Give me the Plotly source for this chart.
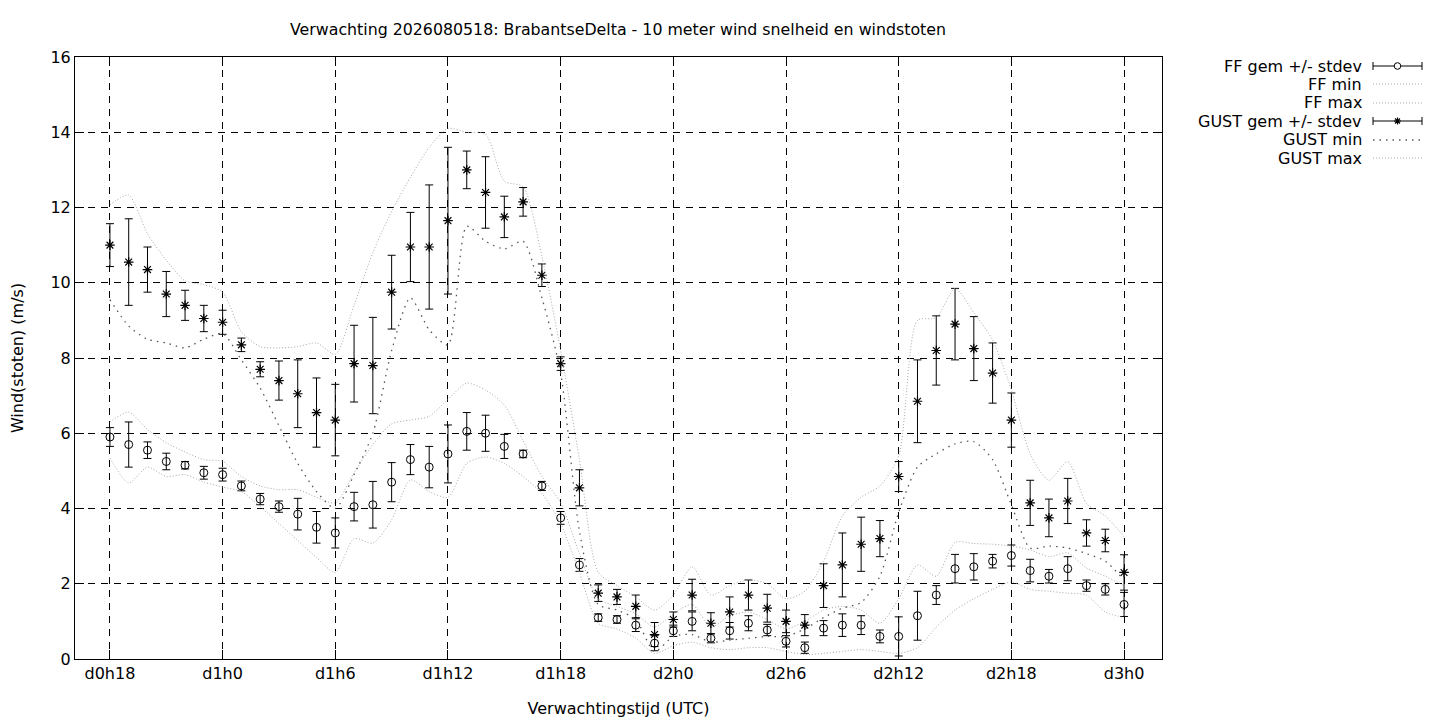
import plotly.graph_objects as go

# ---------------- data (hours since forecast start d0h0) ----------------
hours = list(range(18, 73))

tick_hours = [18, 24, 30, 36, 42, 48, 54, 60, 66, 72]
tick_labels = ["d0h18", "d1h0", "d1h6", "d1h12", "d1h18", "d2h0", "d2h6", "d2h12", "d2h18", "d3h0"]

ff_mean = [5.9, 5.7, 5.55, 5.25, 5.15, 4.95, 4.9, 4.6, 4.25, 4.05,
           3.85, 3.5, 3.35, 4.05, 4.1, 4.7, 5.3, 5.1, 5.45, 6.05,
           6.0, 5.65, 5.45, 4.6, 3.75, 2.5, 1.1, 1.05, 0.9, 0.42,
           0.75, 1.0, 0.55, 0.75, 0.95, 0.77, 0.47, 0.3, 0.82, 0.9,
           0.9, 0.6, 0.6, 1.15, 1.7, 2.4, 2.45, 2.6, 2.75, 2.35,
           2.2, 2.4, 1.95, 1.85, 1.45]
ff_std = [0.25, 0.6, 0.22, 0.22, 0.1, 0.17, 0.17, 0.13, 0.15, 0.15,
          0.42, 0.42, 0.4, 0.38, 0.62, 0.52, 0.4, 0.55, 0.77, 0.5,
          0.48, 0.32, 0.1, 0.12, 0.17, 0.17, 0.1, 0.1, 0.17, 0.2,
          0.15, 0.25, 0.12, 0.22, 0.2, 0.15, 0.15, 0.15, 0.2, 0.3,
          0.25, 0.17, 0.52, 0.65, 0.25, 0.38, 0.35, 0.18, 0.28, 0.3,
          0.18, 0.32, 0.15, 0.15, 0.32]
ff_min = [5.34, 4.68, 5.1, 4.85, 4.9, 4.7, 4.57, 4.45, 4.05, 3.6,
          3.15, 2.7, 2.3, 3.2, 3.08, 3.7, 4.76, 4.45, 4.3, 5.2,
          5.37, 5.2, 4.85, 4.4, 3.6, 2.3, 0.95, 0.8, 0.55, 0.15,
          0.35, 0.45, 0.3, 0.25, 0.3, 0.3, 0.2, 0.12, 0.15, 0.2,
          0.25, 0.2, 0.15, 0.3, 0.85, 1.3, 1.6, 1.85, 2.05, 1.85,
          1.8, 1.75, 1.7, 1.25, 1.1]
ff_max = [6.3, 6.56, 6.1, 5.75, 5.5, 5.3, 5.25, 4.85, 4.6, 4.5,
          4.5, 4.3, 4.15, 4.95, 5.7, 6.25, 6.35, 6.45, 6.9, 7.33,
          7.15, 6.75, 5.8, 4.85, 4.15, 2.8, 1.6, 1.4, 1.2, 0.85,
          1.2, 1.45, 0.85, 1.15, 1.25, 1.05, 0.8, 1.0, 1.3, 1.4,
          1.3, 0.95, 1.6, 2.5, 2.2, 3.1, 3.07, 3.05, 3.0, 2.9,
          2.72, 2.82, 2.42, 2.2, 1.95]

gust_mean = [11.0, 10.55, 10.35, 9.7, 9.4, 9.05, 8.95, 8.35, 7.7, 7.4,
             7.05, 6.55, 6.35, 7.85, 7.8, 9.75, 10.95, 10.95, 11.65, 13.0,
             12.4, 11.75, 12.15, 10.2, 7.85, 4.55, 1.75, 1.65, 1.4, 0.65,
             1.05, 1.7, 0.95, 1.25, 1.7, 1.35, 1.0, 0.9, 1.95, 2.5,
             3.05, 3.2, 4.85, 6.85, 8.2, 8.9, 8.25, 7.6, 6.35, 4.15,
             3.75, 4.2, 3.35, 3.15, 2.3]
gust_std = [0.57, 1.15, 0.6, 0.6, 0.4, 0.35, 0.32, 0.18, 0.2, 0.52,
            0.9, 0.92, 0.95, 1.02, 1.28, 0.98, 0.92, 1.65, 1.95, 0.5,
            0.95, 0.55, 0.38, 0.3, 0.18, 0.48, 0.22, 0.2, 0.3, 0.32,
            0.2, 0.42, 0.28, 0.4, 0.4, 0.37, 0.3, 0.28, 0.58, 0.85,
            0.72, 0.48, 0.4, 1.1, 0.92, 0.95, 0.85, 0.8, 0.72, 0.6,
            0.5, 0.6, 0.35, 0.3, 0.47]
gust_min = [9.55, 8.85, 8.5, 8.4, 8.27, 8.5, 8.65, 7.95, 7.2, 6.2,
            5.2, 4.45, 4.0, 4.9, 6.0, 8.2, 9.6, 8.75, 8.35, 11.5,
            11.1, 10.9, 11.1, 9.6, 7.6, 3.4, 1.45, 1.3, 1.05, 0.2,
            0.6, 0.65, 0.45, 0.5, 0.55, 0.6, 0.6, 0.8, 1.1, 1.35,
            1.5, 2.2, 3.9, 5.1, 5.45, 5.72, 5.78, 5.3, 4.1, 2.95,
            3.0, 2.95, 2.8, 2.6, 2.1]
gust_max = [12.07, 12.33, 11.3, 10.6, 10.05, 9.95, 9.75, 8.7, 8.3, 8.27,
            8.3, 8.4, 8.1, 9.4, 10.8, 11.9, 12.8, 13.6, 14.1, 14.0,
            13.95, 12.7, 12.55, 10.7, 8.2, 5.3, 2.3, 1.95, 1.65, 1.3,
            1.7, 2.45, 1.7, 1.95, 2.1, 2.0, 1.6, 1.8, 2.6, 3.8,
            4.3, 4.6, 5.4, 9.0, 9.07, 9.85, 9.2, 8.48, 7.15, 5.45,
            4.75, 5.25, 4.13, 3.8, 3.25]

series_names = ["FF gem +/- stdev", "FF min", "FF max",
                "GUST gem +/- stdev", "GUST min", "GUST max"]

title_text = "Verwachting 2026080518: BrabantseDelta - 10 meter wind snelheid en windstoten"
x_title = "Verwachtingstijd (UTC)"
y_title = "Wind(stoten) (m/s)"

# ---------------- styling ----------------
FONT = "DejaVu Sans"
FS = 16
LIGHT = "#a8a8a8"
DARK = "#555555"
LIGHT_DASH = "1px,2px"
DARK_DASH = "1.5px,5px"

W, H = 1440, 720
OFF = 8                      # page offset of the plot div (body margin)
PL, PR, PT, PB = 75, 1162, 57, 659   # plot area in screen pixels
PW, PH = PR - PL, PB - PT
ML, MT = PL - OFF, PT - OFF
MR = W - ML - PW
MB = H - MT - PH


def px(x):
    return (x - PL) / PW


def py(y):
    return (PB - y) / PH


fig = go.Figure()

fig.add_trace(go.Scatter(
    x=hours, y=ff_mean, mode="markers", name=series_names[0],
    marker=dict(symbol="circle-open", size=8, color="black", line=dict(width=1, color="black")),
    error_y=dict(type="data", array=ff_std, symmetric=True, color="black", thickness=1, width=4),
    showlegend=False))
fig.add_trace(go.Scatter(
    x=hours, y=ff_min, mode="lines", name=series_names[1],
    line=dict(color=LIGHT, width=1, dash=LIGHT_DASH, shape="spline", smoothing=0.7),
    showlegend=False))
fig.add_trace(go.Scatter(
    x=hours, y=ff_max, mode="lines", name=series_names[2],
    line=dict(color=LIGHT, width=1, dash=LIGHT_DASH, shape="spline", smoothing=0.7),
    showlegend=False))
fig.add_trace(go.Scatter(
    x=hours, y=gust_mean, mode="markers", name=series_names[3],
    marker=dict(symbol="asterisk-open", size=8, color="black", line=dict(width=1.2, color="black")),
    error_y=dict(type="data", array=gust_std, symmetric=True, color="black", thickness=1, width=4),
    showlegend=False))
fig.add_trace(go.Scatter(
    x=hours, y=gust_min, mode="lines", name=series_names[4],
    line=dict(color=DARK, width=1.3, dash=DARK_DASH, shape="spline", smoothing=0.7),
    showlegend=False))
fig.add_trace(go.Scatter(
    x=hours, y=gust_max, mode="lines", name=series_names[5],
    line=dict(color=LIGHT, width=1, dash=LIGHT_DASH, shape="spline", smoothing=0.7),
    showlegend=False))

# ---------------- gnuplot-style legend (text right, sample on the right) ----------------
annotations = []
shapes = []
row_y = [66, 84, 103, 121, 140, 158]
text_right = 1364
s0, s1 = 1373, 1422
for i, name in enumerate(series_names):
    yy = row_y[i]
    annotations.append(dict(xref="paper", yref="paper", x=px(text_right), y=py(yy),
                            text=name, showarrow=False, xanchor="right", yanchor="middle",
                            font=dict(family=FONT, size=FS, color="black")))
    if i in (0, 3):
        shapes.append(dict(type="line", xref="paper", yref="paper",
                           x0=px(s0), x1=px(s1), y0=py(yy), y1=py(yy),
                           line=dict(color="black", width=1)))
        for sx in (s0, s1):
            shapes.append(dict(type="line", xref="paper", yref="paper",
                               x0=px(sx), x1=px(sx), y0=py(yy - 4), y1=py(yy + 4),
                               line=dict(color="black", width=1)))
        cx = (s0 + s1) / 2
        if i == 0:
            shapes.append(dict(type="circle", xref="paper", yref="paper",
                               x0=px(cx - 3.3), x1=px(cx + 3.3), y0=py(yy + 3.3), y1=py(yy - 3.3),
                               line=dict(color="black", width=1), fillcolor="white"))
        else:
            r = 3.5
            d = r * 0.707
            path = (f"M{px(cx - r)},{py(yy)} L{px(cx + r)},{py(yy)} "
                    f"M{px(cx)},{py(yy - r)} L{px(cx)},{py(yy + r)} "
                    f"M{px(cx - d)},{py(yy - d)} L{px(cx + d)},{py(yy + d)} "
                    f"M{px(cx - d)},{py(yy + d)} L{px(cx + d)},{py(yy - d)}")
            shapes.append(dict(type="path", xref="paper", yref="paper", path=path,
                               line=dict(color="black", width=1.2)))
    else:
        dark = (i == 4)
        shapes.append(dict(type="line", xref="paper", yref="paper",
                           x0=px(s0), x1=px(s1), y0=py(yy), y1=py(yy),
                           line=dict(color=DARK if dark else LIGHT, width=1.3 if dark else 1,
                                     dash=DARK_DASH if dark else LIGHT_DASH)))

axis_common = dict(
    showline=True, linecolor="black", linewidth=1, mirror="ticks",
    ticks="inside", ticklen=9, tickcolor="black", tickwidth=1,
    showgrid=True, gridcolor="black", gridwidth=1, griddash="7px,6px",
    zeroline=False, automargin=False,
    tickfont=dict(family=FONT, size=FS, color="black"),
)

fig.update_layout(
    width=W, height=H,
    margin=dict(l=ML, r=MR, t=MT, b=MB, pad=0, autoexpand=False),
    paper_bgcolor="white", plot_bgcolor="white",
    font=dict(family=FONT, size=FS, color="black"),
    title=dict(text=title_text, xref="paper", x=px(618), xanchor="center",
               yref="container", y=1 - (29 - OFF) / H, yanchor="middle",
               font=dict(family=FONT, size=15.8, color="black")),
    xaxis=dict(range=[16.14, 74.02], tickvals=tick_hours, ticktext=tick_labels,
               title=dict(text=x_title, standoff=20, font=dict(family=FONT, size=FS)),
               **axis_common),
    yaxis=dict(range=[0, 16], tickvals=list(range(0, 17, 2)),
               title=dict(text=y_title, standoff=22, font=dict(family=FONT, size=FS)),
               **axis_common),
    annotations=annotations,
    shapes=shapes,
    showlegend=False,
)

fig.write_html("out.html")
